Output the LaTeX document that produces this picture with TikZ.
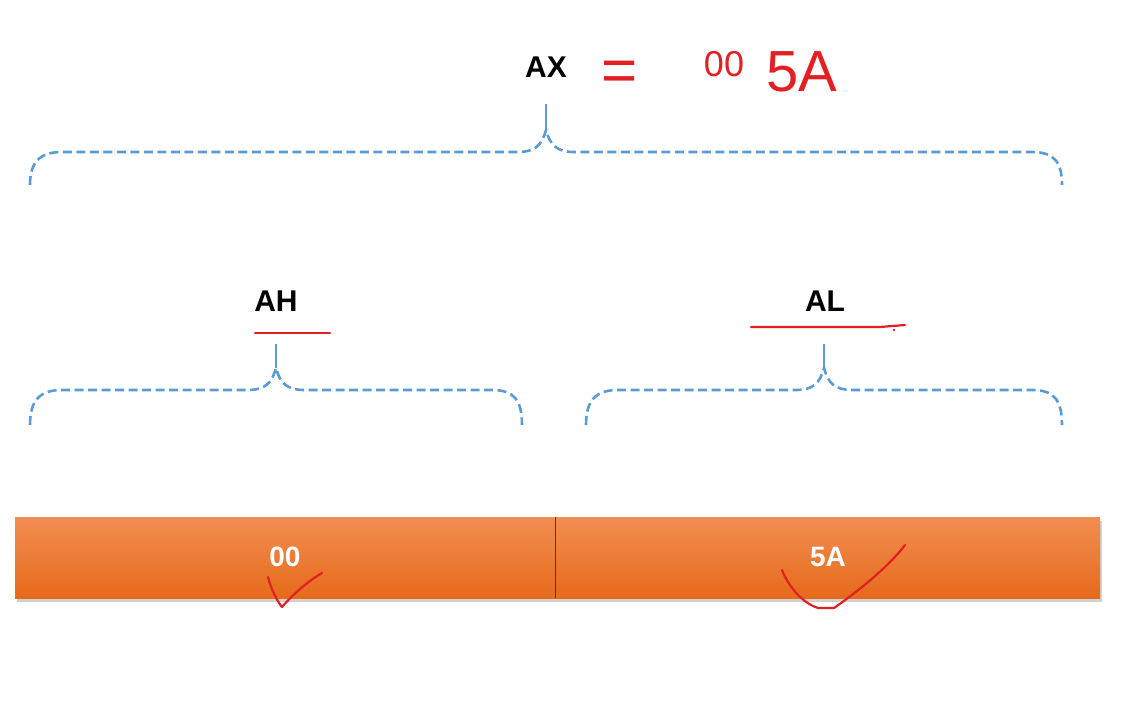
\documentclass[tikz,border=0pt]{standalone}
\usepackage{fontspec}
\setmainfont{Liberation Sans}
\usetikzlibrary{positioning}
\definecolor{braceblue}{RGB}{91,155,213}
\definecolor{inkred}{RGB}{226,32,36}
\definecolor{bartop}{RGB}{242,142,82}
\definecolor{barbot}{RGB}{230,106,26}
\tikzset{
  brace/.style={braceblue, line width=2.6pt, dash pattern=on 9pt off 4.5pt},
  stem/.style={braceblue, line width=2pt},
  reglabel/.style={font=\fontsize{30}{30}\selectfont\bfseries, inner sep=0pt},
  inktext/.style={inkred, inner sep=0pt},
  ink/.style={inkred, line width=2.2pt, line cap=round, line join=round}
}
\begin{document}
\begin{tikzpicture}[x=1pt,y=-1pt]
  \useasboundingbox (0,0) rectangle (1135,718);

  % Registro completo
  \node[reglabel] (ax) at (546,67) {AX};
  \node[inktext, font=\fontsize{62}{62}\selectfont] (eq) at (620,76) {=};
  \node[inktext, font=\fontsize{36}{36}\selectfont] (valhi) at (724,64) {00};
  \node[inktext, font=\fontsize{58}{58}\selectfont, anchor=west] (vallo) at (766,72) {5A};

  % Llave superior
  \coordinate (axtip) at (546,130);
  \draw[stem] (546,104) -- (axtip);
  \draw[brace] (30,185) .. controls (30,162) and (40,152) .. (62,152) -- (518,152)
    .. controls (535,152) and (542,145) .. (axtip)
    .. controls (550,145) and (557,152) .. (574,152) -- (1032,152)
    .. controls (1054,152) and (1062,162) .. (1062,185);

  % Mitades
  \node[reglabel] (ah) at (276,301) {AH};
  \node[reglabel] (al) at (825,301) {AL};
  \draw[ink] (255,333) -- (330,333);
  \draw[ink] (751,327) -- (880,327) -- (905,325);
  \fill[inkred] (894,330) circle (1.3);

  % Llave izquierda
  \coordinate (ahtip) at (276,368);
  \draw[stem] (276,344) -- (ahtip);
  \draw[brace] (30,425) .. controls (30,400) and (40,390) .. (62,390) -- (248,390)
    .. controls (265,390) and (272,383) .. (ahtip)
    .. controls (280,383) and (287,390) .. (304,390) -- (492,390)
    .. controls (514,390) and (522,400) .. (522,425);

  % Llave derecha
  \coordinate (altip) at (824,368);
  \draw[stem] (824,344) -- (altip);
  \draw[brace] (586,425) .. controls (586,400) and (596,390) .. (618,390) -- (796,390)
    .. controls (813,390) and (820,383) .. (altip)
    .. controls (828,383) and (835,390) .. (852,390) -- (1032,390)
    .. controls (1054,390) and (1062,400) .. (1062,425);

  % Barra del registro
  \fill[black!18] (17,521) rectangle (1102,602);
  \shade[top color=bartop, bottom color=barbot] (15,517) rectangle (1100,598);
  \draw[black!55!barbot, line width=1pt] (555,517) -- (555,598);
  \node[reglabel, white, font=\fontsize{28}{28}\selectfont\bfseries] (hi) at (285,557) {00};
  \node[reglabel, white, font=\fontsize{28}{28}\selectfont\bfseries] (lo) at (828,557) {5A};

  % Marcas de visto
  \draw[ink] (268,577) .. controls (272,592) and (278,602) .. (282,607)
    .. controls (295,592) and (310,580) .. (322,573);
  \draw[ink] (782,570) .. controls (790,590) and (805,604) .. (818,608) -- (834,608)
    .. controls (860,590) and (890,565) .. (905,545);
\end{tikzpicture}
\end{document}
